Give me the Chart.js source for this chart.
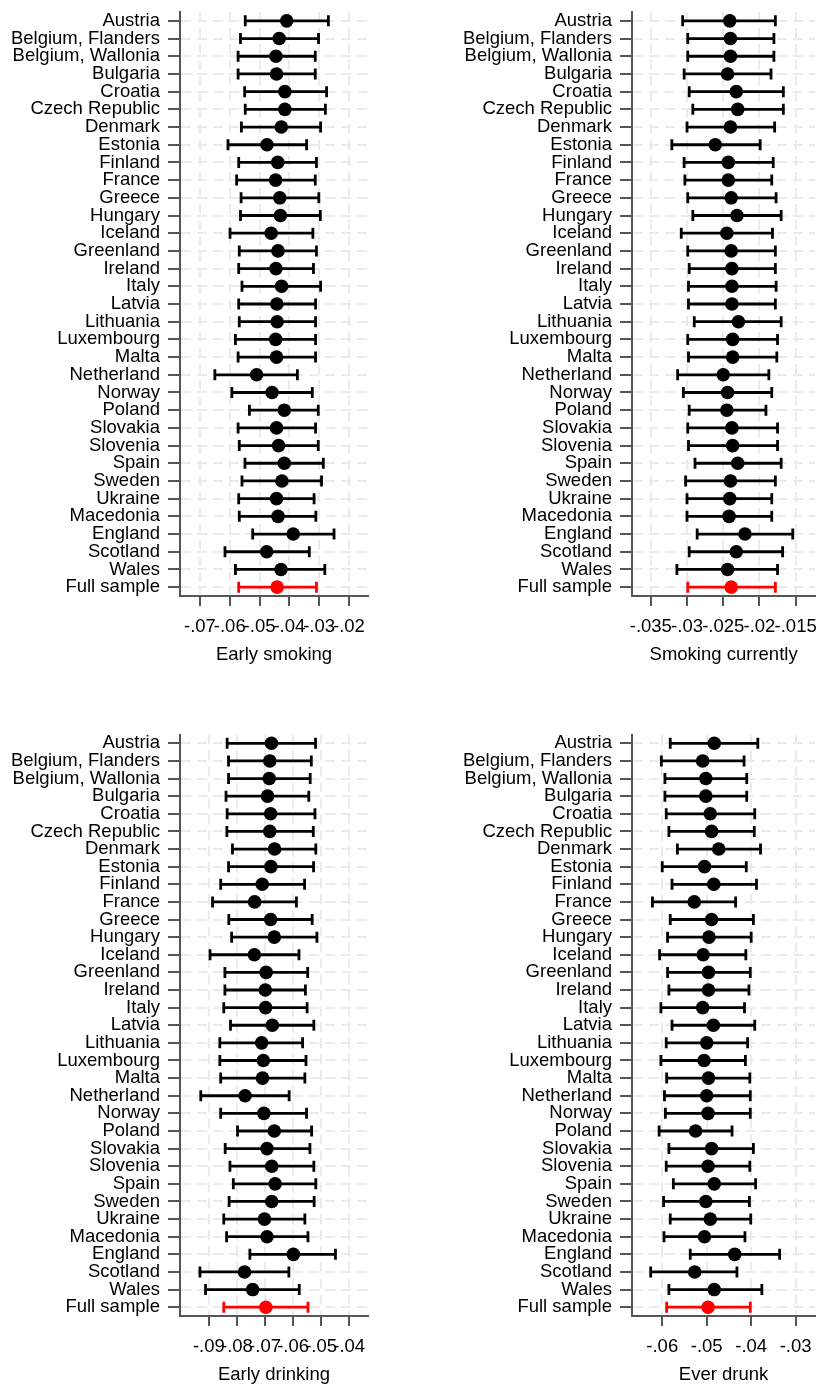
<!DOCTYPE html>
<html>
<head>
<meta charset="utf-8">
<script src="https://cdn.jsdelivr.net/npm/chart.js@4"></script>
<style>
  body { margin: 0; background: #fff; }
  .panel { position: absolute; width: 411px; height: 693px; }
</style>
</head>
<body>
<div class="panel" style="left:0;top:0"><canvas id="p1" width="411" height="693"></canvas></div>
<div class="panel" style="left:411px;top:0"><canvas id="p2" width="411" height="693"></canvas></div>
<div class="panel" style="left:0;top:693px"><canvas id="p3" width="411" height="693"></canvas></div>
<div class="panel" style="left:411px;top:693px"><canvas id="p4" width="411" height="693"></canvas></div>
<script>
// country rows, top to bottom
const countries = ['Austria', 'Belgium, Flanders', 'Belgium, Wallonia', 'Bulgaria', 'Croatia',
    'Czech Republic', 'Denmark', 'Estonia', 'Finland', 'France', 'Greece', 'Hungary', 'Iceland',
    'Greenland', 'Ireland', 'Italy', 'Latvia', 'Lithuania', 'Luxembourg', 'Malta', 'Netherland',
    'Norway', 'Poland', 'Slovakia', 'Slovenia', 'Spain', 'Sweden', 'Ukraine', 'Macedonia',
    'England', 'Scotland', 'Wales', 'Full sample'];

// Early smoking
const earlySmokingEst = [-0.0409, -0.0434, -0.0445, -0.0443, -0.0415, -0.0415, -0.0427, -0.0475,
    -0.0439, -0.0446, -0.0432, -0.0430, -0.0461, -0.0438, -0.0445, -0.0426, -0.0442, -0.0441,
    -0.0446, -0.0443, -0.0510, -0.0458, -0.0417, -0.0443, -0.0436, -0.0417, -0.0425, -0.0443,
    -0.0438, -0.0387, -0.0476, -0.0428, -0.0441];
const earlySmokingLow = [-0.0548, -0.0564, -0.0572, -0.0572, -0.0550, -0.0548, -0.0561, -0.0606,
    -0.0570, -0.0577, -0.0562, -0.0564, -0.0599, -0.0568, -0.0570, -0.0559, -0.0570, -0.0568,
    -0.0581, -0.0572, -0.0650, -0.0593, -0.0534, -0.0572, -0.0568, -0.0549, -0.0559, -0.0570,
    -0.0568, -0.0523, -0.0616, -0.0581, -0.0570];
const earlySmokingHigh = [-0.0269, -0.0302, -0.0313, -0.0313, -0.0275, -0.0279, -0.0295, -0.0342,
    -0.0309, -0.0313, -0.0301, -0.0296, -0.0321, -0.0309, -0.0319, -0.0295, -0.0312, -0.0312,
    -0.0312, -0.0312, -0.0373, -0.0323, -0.0303, -0.0312, -0.0303, -0.0286, -0.0292, -0.0317,
    -0.0311, -0.0250, -0.0333, -0.0281, -0.0309];

// Smoking currently
const smokingNowEst = [-0.0241, -0.0240, -0.0240, -0.0244, -0.0232, -0.0230, -0.0240, -0.0261,
    -0.0243, -0.0243, -0.0239, -0.0231, -0.0245, -0.0239, -0.0238, -0.0238, -0.0238, -0.0229,
    -0.0237, -0.0237, -0.0250, -0.0244, -0.0245, -0.0238, -0.0237, -0.0230, -0.0240, -0.0241,
    -0.0242, -0.0220, -0.0232, -0.0244, -0.0239];
const smokingNowLow = [-0.0306, -0.0299, -0.0299, -0.0304, -0.0297, -0.0292, -0.0300, -0.0321,
    -0.0304, -0.0303, -0.0299, -0.0292, -0.0308, -0.0299, -0.0297, -0.0298, -0.0298, -0.0290,
    -0.0299, -0.0298, -0.0313, -0.0305, -0.0297, -0.0299, -0.0298, -0.0289, -0.0302, -0.0300,
    -0.0300, -0.0286, -0.0297, -0.0314, -0.0299];
const smokingNowHigh = [-0.0178, -0.0180, -0.0180, -0.0184, -0.0167, -0.0167, -0.0179, -0.0199,
    -0.0181, -0.0183, -0.0177, -0.0170, -0.0182, -0.0178, -0.0178, -0.0177, -0.0178, -0.0170,
    -0.0175, -0.0176, -0.0187, -0.0183, -0.0191, -0.0175, -0.0175, -0.0170, -0.0178, -0.0183,
    -0.0183, -0.0154, -0.0168, -0.0175, -0.0178];

// Early drinking
const earlyDrinkingEst = [-0.0677, -0.0683, -0.0685, -0.0691, -0.0680, -0.0683, -0.0666, -0.0679,
    -0.0710, -0.0737, -0.0680, -0.0667, -0.0738, -0.0696, -0.0699, -0.0698, -0.0674, -0.0712,
    -0.0706, -0.0709, -0.0771, -0.0704, -0.0667, -0.0693, -0.0676, -0.0664, -0.0676, -0.0702,
    -0.0693, -0.0599, -0.0773, -0.0744, -0.0697];
const earlyDrinkingLow = [-0.0835, -0.0830, -0.0830, -0.0839, -0.0835, -0.0836, -0.0816, -0.0830,
    -0.0858, -0.0887, -0.0829, -0.0819, -0.0896, -0.0843, -0.0843, -0.0847, -0.0823, -0.0861,
    -0.0861, -0.0858, -0.0929, -0.0858, -0.0798, -0.0842, -0.0825, -0.0813, -0.0828, -0.0847,
    -0.0837, -0.0754, -0.0932, -0.0912, -0.0847];
const earlyDrinkingHigh = [-0.0520, -0.0535, -0.0539, -0.0544, -0.0522, -0.0528, -0.0519, -0.0527,
    -0.0559, -0.0588, -0.0532, -0.0515, -0.0579, -0.0548, -0.0556, -0.0550, -0.0526, -0.0566,
    -0.0554, -0.0558, -0.0614, -0.0552, -0.0534, -0.0540, -0.0526, -0.0519, -0.0525, -0.0558,
    -0.0547, -0.0449, -0.0615, -0.0578, -0.0547];

// Ever drunk
const everDrunkEst = [-0.0483, -0.0509, -0.0502, -0.0502, -0.0492, -0.0489, -0.0473, -0.0505,
    -0.0484, -0.0528, -0.0489, -0.0495, -0.0508, -0.0496, -0.0496, -0.0509, -0.0485, -0.0500,
    -0.0506, -0.0496, -0.0500, -0.0497, -0.0525, -0.0489, -0.0497, -0.0483, -0.0502, -0.0492,
    -0.0505, -0.0437, -0.0527, -0.0483, -0.0497];
const everDrunkLow = [-0.0582, -0.0602, -0.0594, -0.0594, -0.0591, -0.0585, -0.0566, -0.0600,
    -0.0578, -0.0622, -0.0582, -0.0588, -0.0606, -0.0588, -0.0585, -0.0603, -0.0578, -0.0591,
    -0.0603, -0.0590, -0.0595, -0.0593, -0.0607, -0.0585, -0.0591, -0.0575, -0.0597, -0.0582,
    -0.0596, -0.0537, -0.0626, -0.0585, -0.0590];
const everDrunkHigh = [-0.0385, -0.0416, -0.0410, -0.0410, -0.0392, -0.0393, -0.0379, -0.0411,
    -0.0388, -0.0435, -0.0395, -0.0400, -0.0412, -0.0402, -0.0405, -0.0415, -0.0392, -0.0408,
    -0.0413, -0.0403, -0.0402, -0.0402, -0.0443, -0.0395, -0.0403, -0.0390, -0.0404, -0.0401,
    -0.0414, -0.0336, -0.0432, -0.0376, -0.0402];

// x tick values and their labels
const earlySmokingTicks = [-0.07, -0.06, -0.05, -0.04, -0.03, -0.02];
const earlySmokingTickLabels = ['-.07', '-.06', '-.05', '-.04', '-.03', '-.02'];
const smokingNowTicks = [-0.035, -0.03, -0.025, -0.02, -0.015];
const smokingNowTickLabels = ['-.035', '-.03', '-.025', '-.02', '-.015'];
const earlyDrinkingTicks = [-0.09, -0.08, -0.07, -0.06, -0.05, -0.04];
const earlyDrinkingTickLabels = ['-.09', '-.08', '-.07', '-.06', '-.05', '-.04'];
const everDrunkTicks = [-0.06, -0.05, -0.04, -0.03];
const everDrunkTickLabels = ['-.06', '-.05', '-.04', '-.03'];

Chart.defaults.font.family = "'Liberation Sans', Arial, sans-serif";
Chart.defaults.font.size = 18.5;
Chart.defaults.color = '#000';

const AXIS = '#555';
const GRID = '#ebebeb';
const RED = '#ff0000';
const lastRow = countries.length - 1;

// whiskers with caps, drawn under the dots
const errorBars = {
    id: 'errorBars',
    beforeDatasetsDraw(chart) {
        const ds = chart.data.datasets[0];
        const { ctx, scales: { x, y } } = chart;
        ctx.save();
        ctx.lineWidth = 2.8;
        ds.low.forEach((lo, i) => {
            const yy = y.getPixelForValue(i);
            const x1 = x.getPixelForValue(lo);
            const x2 = x.getPixelForValue(ds.high[i]);
            ctx.strokeStyle = i === lastRow ? RED : '#000';
            ctx.beginPath();
            ctx.moveTo(x1, yy); ctx.lineTo(x2, yy);
            ctx.moveTo(x1, yy - 5.5); ctx.lineTo(x1, yy + 5.5);
            ctx.moveTo(x2, yy - 5.5); ctx.lineTo(x2, yy + 5.5);
            ctx.stroke();
        });
        ctx.restore();
    }
};

function makePanel(id, title, est, low, high, ticks, tickLabels, min, max, yWidth, pad) {
    new Chart(document.getElementById(id), {
        type: 'scatter',
        data: {
            datasets: [{
                data: est.map((v, i) => ({ x: v, y: countries[i] })),
                low: low,
                high: high,
                pointRadius: 6.8,
                pointHoverRadius: 6.8,
                borderWidth: 0,
                backgroundColor: est.map((v, i) => i === lastRow ? RED : '#000')
            }]
        },
        options: {
            responsive: false,
            animation: false,
            layout: { padding: pad },
            plugins: { legend: { display: false }, tooltip: { enabled: false } },
            scales: {
                x: {
                    type: 'linear',
                    min: min,
                    max: max,
                    afterBuildTicks: s => { s.ticks = ticks.map(v => ({ value: v })); },
                    afterFit: s => { s.height = 70; s.paddingLeft = 0; s.paddingRight = 0; },
                    ticks: {
                        callback: (v, i) => tickLabels[i],
                        autoSkip: false,
                        maxRotation: 0,
                        padding: 10
                    },
                    grid: { color: GRID, lineWidth: 2, tickColor: AXIS, tickLength: 10, tickBorderDash: [] },
                    border: { color: AXIS, width: 2, dash: [10, 6] },
                    title: { display: true, text: title, padding: { top: 0, bottom: 0 } }
                },
                y: {
                    type: 'category',
                    labels: countries,
                    offset: true,
                    afterFit: s => { s.width = yWidth; s.paddingTop = 0; s.paddingBottom = 0; },
                    ticks: { autoSkip: false, padding: 8 },
                    grid: { offset: false, color: GRID, lineWidth: 2, tickColor: AXIS, tickLength: 12, tickBorderDash: [] },
                    border: { color: AXIS, width: 2, dash: [10, 6] }
                }
            }
        },
        plugins: [errorBars]
    });
}

makePanel('p1', 'Early smoking', earlySmokingEst, earlySmokingLow, earlySmokingHigh,
    earlySmokingTicks, earlySmokingTickLabels, -0.0767, -0.0136, 180,
    { top: 12, right: 43, bottom: 27, left: 0 });
makePanel('p2', 'Smoking currently', smokingNowEst, smokingNowLow, smokingNowHigh,
    smokingNowTicks, smokingNowTickLabels, -0.0376, -0.0123, 221,
    { top: 12, right: 0, bottom: 27, left: 0 });
makePanel('p3', 'Early drinking', earlyDrinkingEst, earlyDrinkingLow, earlyDrinkingHigh,
    earlyDrinkingTicks, earlyDrinkingTickLabels, -0.1003, -0.0333, 180,
    { top: 41.5, right: 43, bottom: 0, left: 0 });
makePanel('p4', 'Ever drunk', everDrunkEst, everDrunkLow, everDrunkHigh,
    everDrunkTicks, everDrunkTickLabels, -0.0668, -0.0256, 221,
    { top: 41.5, right: 0, bottom: 0, left: 0 });
</script>
</body>
</html>
